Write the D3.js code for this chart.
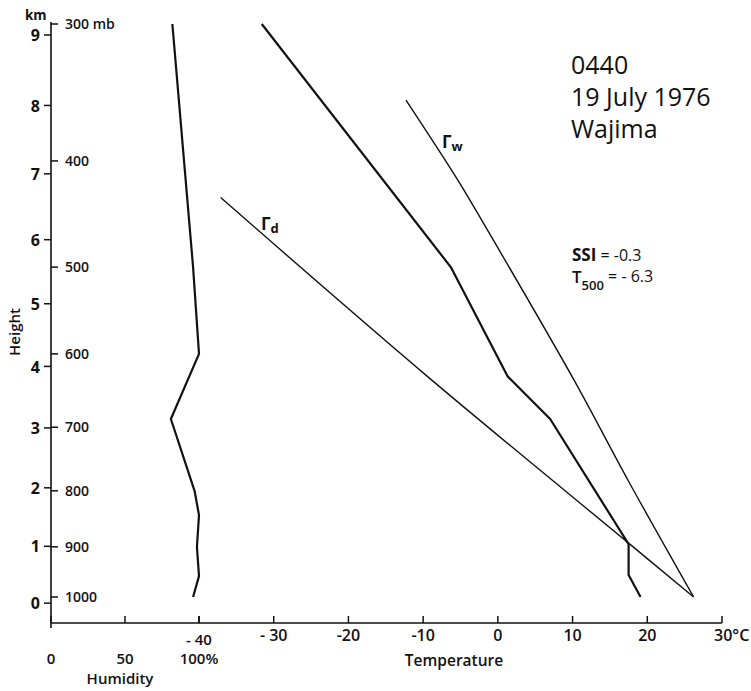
<!DOCTYPE html>
<html>
<head>
<meta charset="utf-8">
<script src="https://cdn.jsdelivr.net/npm/d3@7"></script>
<style>
  body { margin: 0; background: #fff; }
  svg { display: block; }
  text { font-family: 'Open Sans', 'DejaVu Sans', sans-serif; fill: #111; }
</style>
</head>
<body>
<svg id="chart" width="751" height="691"></svg>
<script>
// axis ticks
const pressureTicks = [300, 400, 500, 600, 700, 800, 900, 1000];
const heightKm = [0, 1, 2, 3, 4, 5, 6, 7, 8, 9];
const heightP = [1013, 899, 795, 701, 616, 540, 472, 411, 356, 307];
const tempTicks = [-40, -30, -20, -10, 0, 10, 20, 30];
const tempLabels = ['- 40', '- 30', '-20', '-10', '0', '10', '20', '30°C'];
const humTicks = [0, 50, 100];
const humLabels = ['0', '50', '100%'];

// sounding (pressure mb / value)
const soundP = [300, 500, 629, 688, 895, 955, 1000];
const soundT = [-31.6, -6.3, 1.3, 7.0, 17.5, 17.5, 19.1];
const humP = [300, 500, 600, 688, 800, 842, 900, 957, 1000];
const humRH = [82, 96, 100, 81, 97, 100, 98.6, 100, 96];
const dryP = [432, 631, 893, 1000];
const dryT = [-37.1, -9.2, 17.5, 26.2];
const wetP = [352, 416, 460, 634, 782, 1000];
const wetT = [-12.3, -5.4, -1.6, 10.2, 17.4, 26.2];

const svg = d3.select('#chart');
const axisX = 51, axisY = 623;

const y = d3.scaleLog().domain([1000, 300]).range([597, 24]);
const tx = d3.scaleLinear().domain([-40, 30]).range([199, 722]);
const hx = d3.scaleLinear().domain([0, 100]).range([axisX, 199]);

// axes
svg.append('line')
  .attr('x1', axisX).attr('x2', axisX).attr('y1', 22).attr('y2', 628)
  .attr('stroke', '#111').attr('stroke-width', 1.6);
svg.append('line')
  .attr('x1', axisX).attr('x2', tx(30)).attr('y1', axisY).attr('y2', axisY)
  .attr('stroke', '#111').attr('stroke-width', 1.6);

// height ticks (left)
const km = svg.append('g').selectAll('g')
  .data(heightKm)
  .enter()
  .append('g')
  .attr('transform', (d, i) => `translate(0,${y(heightP[i])})`);
km.append('line')
  .attr('x1', axisX - 7).attr('x2', axisX)
  .attr('stroke', '#111').attr('stroke-width', 1.5);
km.append('text')
  .attr('x', axisX - 11).attr('dy', '0.38em')
  .attr('text-anchor', 'end')
  .attr('font-size', 16).attr('font-weight', 700)
  .text(d => d);

svg.append('text')
  .attr('x', 25).attr('y', 20)
  .attr('font-size', 13.5).attr('font-weight', 700)
  .text('km');

// pressure ticks (right)
const pr = svg.append('g').selectAll('g')
  .data(pressureTicks)
  .enter()
  .append('g')
  .attr('transform', d => `translate(0,${y(d)})`);
pr.append('line')
  .attr('x1', axisX).attr('x2', axisX + 7)
  .attr('stroke', '#111').attr('stroke-width', 1.5);
pr.append('text')
  .attr('x', axisX + 14).attr('dy', '0.36em')
  .attr('font-size', 14).attr('font-weight', 600)
  .text(d => (d === 300 ? '300 mb' : d));

svg.append('text')
  .attr('transform', 'translate(20,332) rotate(-90)')
  .attr('text-anchor', 'middle')
  .attr('font-size', 15).attr('font-weight', 600)
  .text('Height');

// bottom ticks
const allTicks = tempTicks.map(tx).concat(humTicks.map(hx));
svg.append('g').selectAll('line')
  .data(allTicks)
  .enter()
  .append('line')
  .attr('x1', d => d).attr('x2', d => d)
  .attr('y1', axisY - 7).attr('y2', axisY)
  .attr('stroke', '#111').attr('stroke-width', 1.5);

svg.append('g').selectAll('text')
  .data(tempTicks)
  .enter()
  .append('text')
  .attr('x', d => (d === 30 ? tx(d) - 8 : tx(d)))
  .attr('y', d => (d === -40 ? 645 : 641))
  .attr('text-anchor', d => (d === 30 ? 'start' : 'middle'))
  .attr('font-size', d => (d === -40 ? 15 : 16)).attr('font-weight', 600)
  .text((d, i) => tempLabels[i]);

svg.append('g').selectAll('text')
  .data(humTicks)
  .enter()
  .append('text')
  .attr('x', d => hx(d))
  .attr('y', 664)
  .attr('text-anchor', 'middle')
  .attr('font-size', 15).attr('font-weight', 600)
  .text((d, i) => humLabels[i]);

svg.append('text')
  .attr('x', 120).attr('y', 684)
  .attr('text-anchor', 'middle')
  .attr('font-size', 15).attr('font-weight', 600)
  .text('Humidity');

svg.append('text')
  .attr('x', 454).attr('y', 666)
  .attr('text-anchor', 'middle')
  .attr('font-size', 15.5).attr('font-weight', 600)
  .text('Temperature');

// curves
const tLine = d3.line().x(d => tx(d[1])).y(d => y(d[0]));
const hLine = d3.line().x(d => hx(d[1])).y(d => y(d[0]));
const smooth = d3.line().x(d => tx(d[1])).y(d => y(d[0])).curve(d3.curveCatmullRom);

svg.append('path')
  .attr('d', hLine(d3.zip(humP, humRH)))
  .attr('fill', 'none').attr('stroke', '#111').attr('stroke-width', 2.2)
  .attr('stroke-linejoin', 'round');
svg.append('path')
  .attr('d', tLine(d3.zip(soundP, soundT)))
  .attr('fill', 'none').attr('stroke', '#111').attr('stroke-width', 2.2)
  .attr('stroke-linejoin', 'round');
svg.append('path')
  .attr('d', smooth(d3.zip(dryP, dryT)))
  .attr('fill', 'none').attr('stroke', '#111').attr('stroke-width', 1.4);
svg.append('path')
  .attr('d', smooth(d3.zip(wetP, wetT)))
  .attr('fill', 'none').attr('stroke', '#111').attr('stroke-width', 1.4);

// Γ labels
const gd = svg.append('text').attr('x', 261).attr('y', 230)
  .attr('font-size', 17).attr('font-weight', 700);
gd.append('tspan').text('Γ');
gd.append('tspan').attr('font-size', 13).attr('dy', 3).text('d');

const gw = svg.append('text').attr('x', 442).attr('y', 148)
  .attr('font-size', 17).attr('font-weight', 700);
gw.append('tspan').text('Γ');
gw.append('tspan').attr('font-size', 13).attr('dy', 3).text('w');

// station block
['0440', '19 July 1976', 'Wajima'].forEach((t, i) => {
  svg.append('text')
    .attr('x', 571).attr('y', 74 + i * 32)
    .attr('font-size', 25)
    .text(t);
});

const ssi = svg.append('text').attr('x', 572).attr('y', 261);
ssi.append('tspan').attr('font-size', 17).attr('font-weight', 700).text('SSI');
ssi.append('tspan').attr('font-size', 16).text(' = -0.3');

const t5 = svg.append('text').attr('x', 572).attr('y', 283);
t5.append('tspan').attr('font-size', 17).attr('font-weight', 600).text('T');
t5.append('tspan').attr('font-size', 13).attr('font-weight', 600).attr('dy', 7).text('500');
t5.append('tspan').attr('font-size', 16).attr('dy', -8).text(' = - 6.3');
</script>
</body>
</html>
